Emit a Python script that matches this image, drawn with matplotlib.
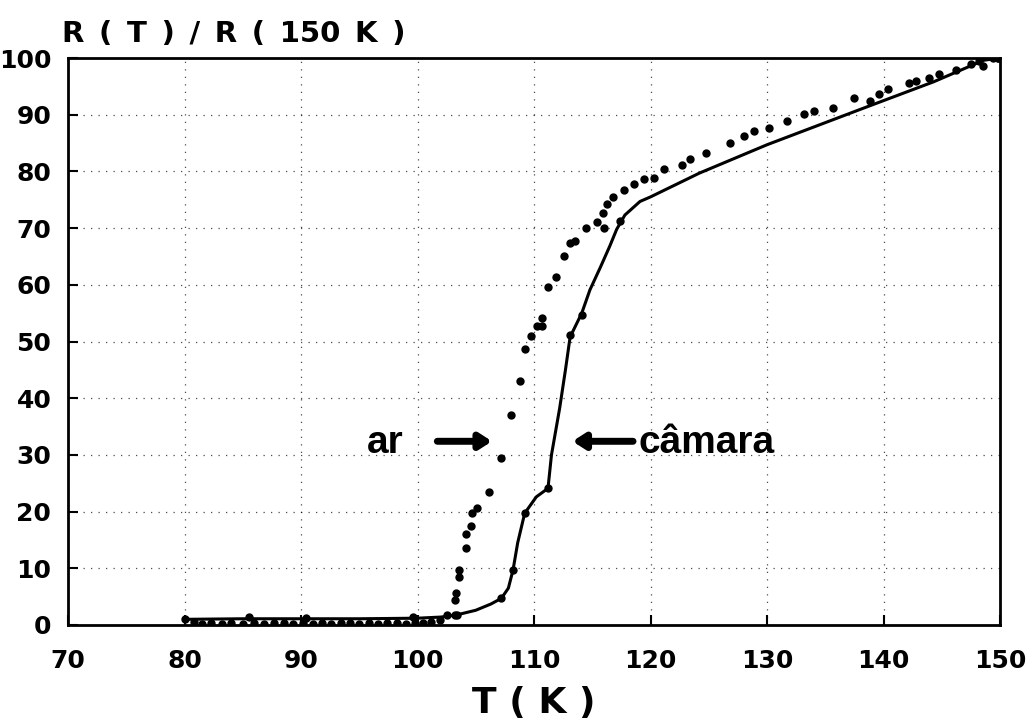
import matplotlib
matplotlib.use("Agg")
import matplotlib.pyplot as plt

# --- data ---
T_cam = [80, 85, 90, 95, 100, 102, 103.4, 105, 106.3, 107.2, 107.8, 108.2, 108.6,
         109.2, 110.2, 111.2, 111.5, 112.2, 112.7, 113.1, 114.1, 114.8, 115.7, 116.5,
         117.1, 117.8, 119.1, 120, 124.2, 130, 138.6, 144.3, 148.6, 150]
R_cam = [1.0, 1.1, 1.1, 1.1, 1.2, 1.4, 1.8, 2.6, 3.7, 4.7, 6.5, 9.7, 14.5,
         19.7, 22.6, 24.1, 30, 38.2, 45.0, 50.8, 55.0, 59.1, 63.1, 66.8,
         69.8, 72.3, 74.7, 75.5, 79.7, 84.7, 91.4, 95.8, 99.6, 100]

T_cam_pts = [80, 85.5, 90.4, 99.6, 103.4, 107.2, 108.2, 109.2, 111.2, 113.1, 114.1, 117.4, 149.8]
R_cam_pts = [1.1, 1.4, 1.3, 1.4, 1.8, 4.7, 9.7, 19.7, 24.1, 51.1, 54.6, 71.2, 100]

T_ar = [80.8, 81.5, 82.3, 83.2, 84.0, 85.0, 86.0, 86.8, 87.7, 88.5, 89.3, 90.2, 91.0,
        91.8, 92.6, 93.4, 94.2, 95.0, 95.8, 96.6, 97.4, 98.2, 99.0, 99.8, 100.5, 101.2, 101.9,
        102.5, 103.2, 103.2, 103.3, 103.6, 103.6, 104.2, 104.2, 104.6, 104.7, 105.1,
        106.1, 107.2, 108.0, 108.8, 109.2, 109.7, 110.3, 110.7, 110.7, 111.2, 111.9,
        112.6, 113.1, 113.5, 114.5, 115.4, 116.0, 115.9, 116.3, 116.8, 117.7, 118.6,
        119.4, 120.3, 121.2, 122.7, 123.4, 124.8, 126.8, 128.0, 128.9, 130.2, 131.7,
        133.2, 134.0, 135.7, 137.5, 138.8, 139.6, 140.4, 142.2, 142.8, 143.9, 144.8,
        146.2, 147.5, 148.2, 148.5, 149.4, 149.8]
R_ar = [0.5, 0.2, 0.3, 0.2, 0.3, 0.2, 0.3, 0.2, 0.3, 0.3, 0.2, 0.3, 0.2,
        0.3, 0.2, 0.3, 0.3, 0.2, 0.3, 0.2, 0.3, 0.3, 0.2, 0.3, 0.4, 0.6, 0.8,
        1.8, 1.8, 4.4, 5.6, 8.5, 9.7, 13.5, 16.0, 17.4, 19.7, 20.6,
        23.4, 29.4, 37.0, 43.0, 48.6, 51.0, 52.8, 52.8, 54.2, 59.7, 61.4,
        65.1, 67.3, 67.8, 70.0, 71.0, 70.0, 72.7, 74.3, 75.5, 76.7, 77.8,
        78.7, 78.9, 80.5, 81.2, 82.2, 83.3, 85.0, 86.2, 87.1, 87.7, 88.9,
        90.1, 90.7, 91.2, 93.0, 92.4, 93.6, 94.5, 95.6, 96.0, 96.5, 97.2,
        97.9, 99.0, 99.5, 98.6, 100.0, 100.0]

x_ticks = [70, 80, 90, 100, 110, 120, 130, 140, 150]
y_ticks = [0, 10, 20, 30, 40, 50, 60, 70, 80, 90, 100]

plt.rcParams['font.family'] = ['DejaVu Sans']
plt.rcParams['font.weight'] = 'bold'

fig = plt.figure(figsize=(10.32, 7.24), dpi=100)
ax = fig.add_axes([68/1032, 1 - 625/724, (1000-68)/1032, (625-58)/724])

ax.plot(T_cam, R_cam, color='black', lw=2.2, zorder=3)
ax.plot(T_cam_pts, R_cam_pts, 'o', color='black', ms=5, zorder=4)
ax.plot(T_ar, R_ar, 'o', color='black', ms=5, zorder=4)

ax.set_xlim(70, 150)
ax.set_ylim(0, 100)
ax.set_xticks(x_ticks)
ax.set_yticks(y_ticks)
ax.set_xticklabels([str(v) for v in x_ticks], fontsize=18, fontweight='bold')
ax.set_yticklabels([str(v) for v in y_ticks], fontsize=18, fontweight='bold')
ax.tick_params(direction='in', length=7, width=1.5)
ax.tick_params(axis='x', pad=17)
ax.tick_params(axis='y', pad=12)
ax.grid(True, color='black', linestyle=(0, (1, 5)), lw=0.9, alpha=0.7)
for s in ax.spines.values():
    s.set_linewidth(2)

ax.set_xlabel('T ( K )', fontsize=26, fontweight='bold', labelpad=10)
fig.text(62/1032, 1 - 42/724, 'R\u2002(\u2002T\u2002)\u2002/\u2002R\u2002(\u2002150\u2002K\u2002)',
         fontsize=21, fontweight='bold', ha='left', va='baseline')

ax.text(97.2, 32.1, 'ar', fontsize=28, fontweight='bold', ha='center', va='center',
        family='Liberation Sans')
ax.text(119.0, 32.1, 'câmara', fontsize=28, fontweight='bold', ha='left', va='center',
        family='Liberation Sans')
arrow_kw = dict(arrowstyle='-|>,head_length=0.7,head_width=0.45', color='black', lw=5,
                shrinkA=0, shrinkB=0)
ax.annotate('', xy=(106.4, 32.4), xytext=(101.7, 32.4), arrowprops=arrow_kw)
ax.annotate('', xy=(113.3, 32.4), xytext=(118.5, 32.4), arrowprops=arrow_kw)

fig.savefig('out.png', dpi=100)
